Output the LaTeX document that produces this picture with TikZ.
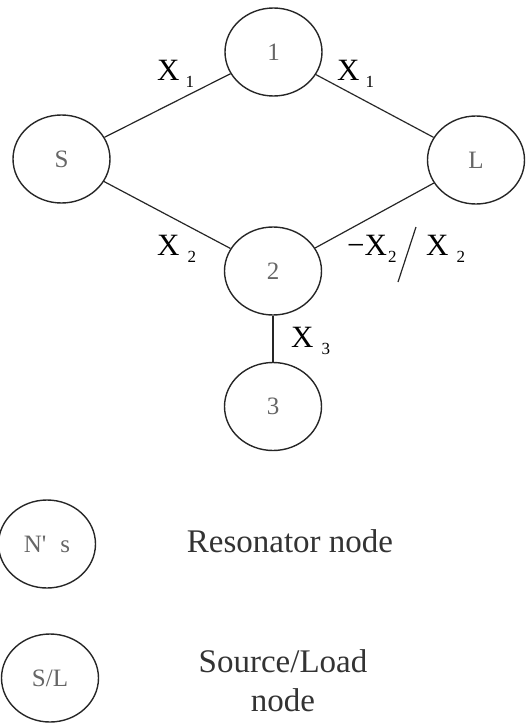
\documentclass[tikz,border=0pt]{standalone}
\usepackage{fontspec}
\setmainfont{Liberation Serif}
\usetikzlibrary{shapes.geometric}
\newcommand{\xsub}[1]{\raisebox{-7pt}{\fontsize{17}{17}\selectfont #1}}

\begin{document}
\begin{tikzpicture}[x=1pt, y=-1pt,
  res/.style={ellipse, draw=black!85, line width=1.4pt, minimum width=97pt, minimum height=88pt, inner sep=0pt, text=black!60, font=\fontsize{25}{25}\selectfont},
  link/.style={draw=black!85, line width=1.2pt},
  coup/.style={inner sep=0pt, anchor=base west, font=\fontsize{31}{31}\selectfont},
  caption/.style={align=center, font=\fontsize{33}{39}\selectfont, text=black!80}
]
  \useasboundingbox (0,0) rectangle (525,723);

  \node[res] (src) at (61.5,159) {S};
  \node[res] (r1)  at (273.5,52) {1};
  \node[res] (lod) at (476,160)  {L};
  \node[res] (r2)  at (273,271)  {2};
  \node[res] (r3)  at (273,406.5) {3};

  \draw[link] (src) -- (r1);
  \draw[link] (r1) -- (lod);
  \draw[link] (src) -- (r2);
  \draw[link] (r2) -- (lod);
  \draw[link] (r2) -- (r3);

  % coupling labels
  \node[coup] (x1a) at (157,80)  {X\kern6pt\xsub{1}};
  \node[coup] (x1b) at (337,80)  {X\kern6pt\xsub{1}};
  \node[coup] (x2a) at (157,255) {X\kern8pt\xsub{2}};
  \node[coup] (x2b) at (347,255) {−X\kern1pt\xsub{2}};
  \node[coup] (x2c) at (426,255) {X\kern8pt\xsub{2}};
  \node[coup] (x3)  at (291,347) {X\kern8pt\xsub{3}};
  \draw[link] (416,227) -- (398,282);

  % legend
  \node[res] (leg1) at (47,544) {N\textquotesingle\hspace{14pt}s};
  \node[res] (leg2) at (50,678) {S/L};
  \node[caption, anchor=base] (cap1) at (290,552) {Resonator node};
  \node[caption] (cap2) at (283,681) {Source/Load\\node};
\end{tikzpicture}
\end{document}
